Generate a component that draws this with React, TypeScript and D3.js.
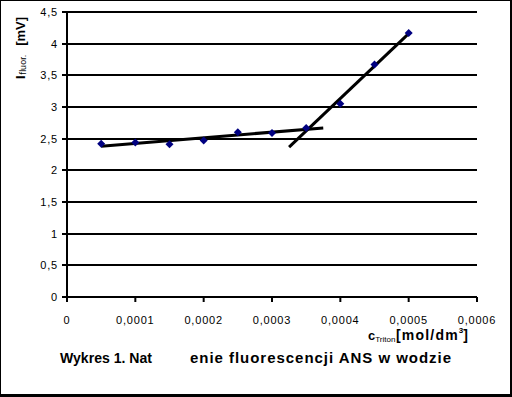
import React from "react";
import * as d3 from "d3";

const concentrations = [0.00005, 0.0001, 0.00015, 0.0002, 0.00025, 0.0003, 0.00035, 0.0004, 0.00045, 0.0005];
const intensities = [2.42, 2.44, 2.41, 2.47, 2.6, 2.59, 2.67, 3.05, 3.67, 4.17];
const xTickValues = [0, 0.0001, 0.0002, 0.0003, 0.0004, 0.0005, 0.0006];
const xTickLabels = ["0", "0,0001", "0,0002", "0,0003", "0,0004", "0,0005", "0,0006"];
const yTickValues = [0, 0.5, 1, 1.5, 2, 2.5, 3, 3.5, 4, 4.5];
const yTickLabels = ["0", "0,5", "1", "1,5", "2", "2,5", "3", "3,5", "4", "4,5"];
// linear trend lines: fitted point index ranges and forecast extents
const trendFirst = [0, 6];
const trendLast = [6, 9];
const trendBackward = [0, 0.000025];
const trendForward = [0.000025, 0];
const titleParts = ["Wykres 1. Nat", "enie fluorescencji ANS w wodzie"];

const W = 512;
const H = 397;
const FONT = "'Liberation Sans', Arial, Helvetica, sans-serif";

function fit(xs: number[], ys: number[]) {
  const mx = d3.mean(xs) as number;
  const my = d3.mean(ys) as number;
  let sxy = 0;
  let sxx = 0;
  xs.forEach((x, i) => {
    sxy += (x - mx) * (ys[i] - my);
    sxx += (x - mx) * (x - mx);
  });
  const slope = sxy / sxx;
  return { slope, intercept: my - slope * mx };
}

export default function App() {
  const x = d3.scaleLinear().domain([0, 0.0006]).range([67, 477]);
  const y = d3.scaleLinear().domain([0, 4.5]).range([297, 12]);
  const line = d3
    .line<[number, number]>()
    .x((d) => x(d[0]))
    .y((d) => y(d[1]));

  const trends = trendFirst.map((first, k) => {
    const last = trendLast[k];
    const xs = concentrations.slice(first, last + 1);
    const ys = intensities.slice(first, last + 1);
    const { slope, intercept } = fit(xs, ys);
    const x0 = xs[0] - trendBackward[k];
    const x1 = xs[xs.length - 1] + trendForward[k];
    return [
      [x0, intercept + slope * x0],
      [x1, intercept + slope * x1],
    ] as [number, number][];
  });

  const r = 4;
  const diamond = `M0,${-r}L${r},0L0,${r}L${-r},0Z`;

  return (
    <svg
      width={W}
      height={H}
      style={{ position: "absolute", left: 0, top: 0, display: "block" }}
      fontFamily={FONT}
    >
      <rect x={0} y={0} width={W} height={H} fill="#000" />
      <rect x={1} y={1} width={509} height={393} fill="#fff" />

      {/* gridlines */}
      {yTickValues.map((v) => (
        <line
          key={"g" + v}
          x1={x(0)}
          x2={x(0.0006)}
          y1={Math.round(y(v))}
          y2={Math.round(y(v))}
          stroke="#000"
          strokeWidth={2}
        />
      ))}
      {/* y axis */}
      <line x1={x(0)} x2={x(0)} y1={Math.round(y(4.5)) - 1} y2={Math.round(y(0)) + 1} stroke="#000" strokeWidth={2} />
      {yTickValues.map((v, i) => (
        <g key={"yt" + v}>
          <line x1={x(0) - 5} x2={x(0)} y1={Math.round(y(v))} y2={Math.round(y(v))} stroke="#000" strokeWidth={2} />
          <text
            x={58}
            y={Math.round(y(v)) + 4}
            textAnchor="end"
            fontSize={11}
            letterSpacing={0.8}
            fill="#000"
          >
            {yTickLabels[i]}
          </text>
        </g>
      ))}
      {xTickValues.map((v, i) => (
        <g key={"xt" + v}>
          <line x1={x(v)} x2={x(v)} y1={y(0)} y2={y(0) + 5} stroke="#000" strokeWidth={2} />
          <text x={x(v)} y={324} textAnchor="middle" fontSize={11} letterSpacing={0.8} fill="#000">
            {xTickLabels[i]}
          </text>
        </g>
      ))}

      {/* trend lines */}
      {trends.map((t, k) => (
        <path key={"tr" + k} d={line(t) || ""} stroke="#000" strokeWidth={3} fill="none" />
      ))}

      {/* markers */}
      {concentrations.map((c, i) => (
        <path key={"m" + i} d={diamond} transform={`translate(${x(c)},${y(intensities[i])})`} fill="#000080" />
      ))}

      {/* y axis title */}
      <text transform="translate(25,79) rotate(-90)" fill="#000" fontSize={13} fontWeight="bold">
        <tspan>I</tspan>
        <tspan fontSize={9} fontWeight="normal" dy={1} dx={1}>
          fluor.
        </tspan>
        <tspan dy={-1} dx={9}>
          [mV]
        </tspan>
      </text>

      {/* x axis title */}
      <text x={368} y={340} fill="#000" fontSize={14} fontWeight="bold">
        <tspan fontSize={13}>c</tspan>
        <tspan fontSize={8} fontWeight="normal" dy={2}>
          Triton
        </tspan>
        <tspan x={396} dy={-2} letterSpacing={1.2}>
          [mol/dm
        </tspan>
        <tspan fontSize={8} dy={-7}>
          3
        </tspan>
        <tspan dy={7}>]</tspan>
      </text>

      {/* chart title */}
      <text y={363} fill="#000" fontSize={15} fontWeight="bold" style={{ whiteSpace: "pre" }}>
        <tspan x={60} textLength={92} lengthAdjust="spacingAndGlyphs">
          {titleParts[0]}
        </tspan>
        <tspan>{"     "}</tspan>
        <tspan x={190} textLength={261} lengthAdjust="spacing">
          {titleParts[1]}
        </tspan>
      </text>
    </svg>
  );
}
